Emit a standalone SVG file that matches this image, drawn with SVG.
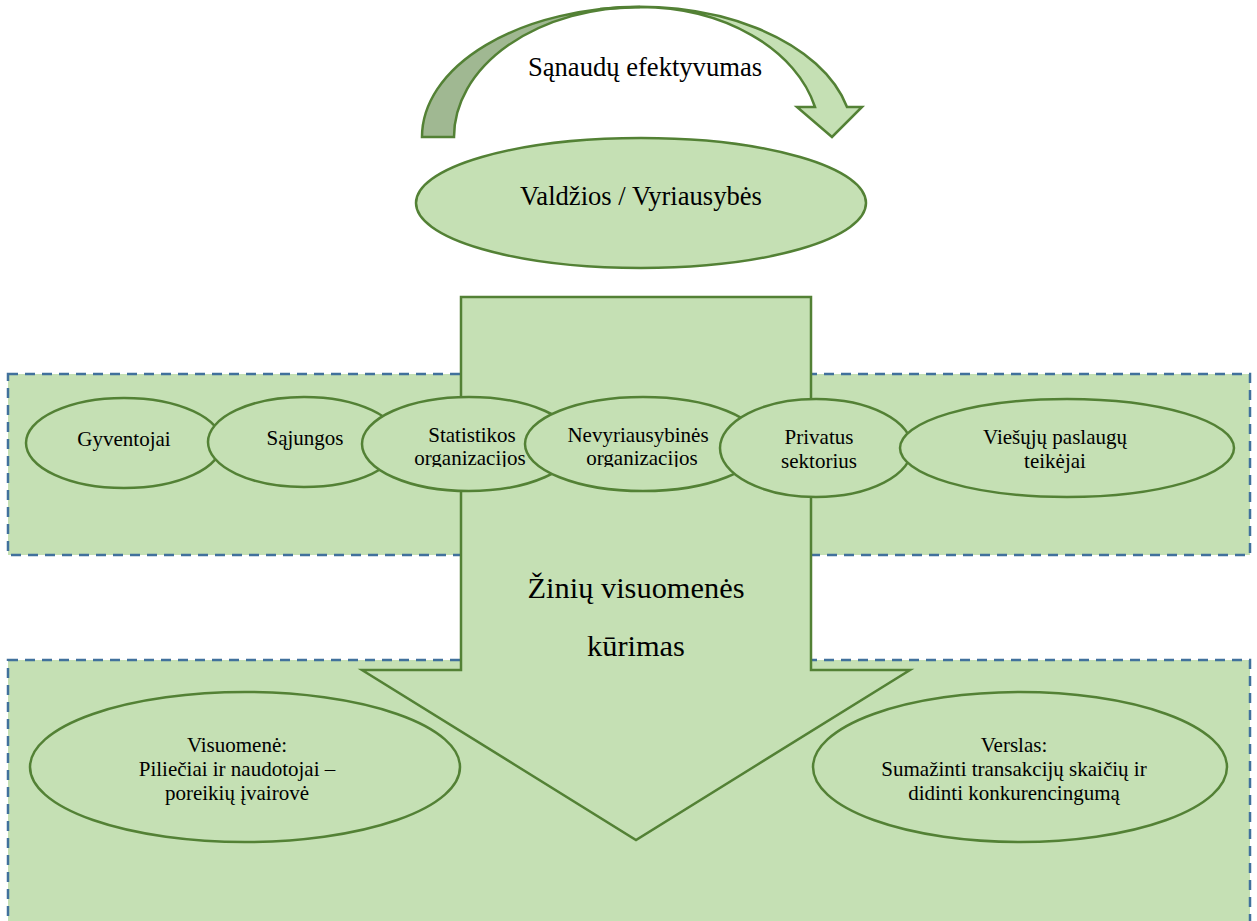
<svg xmlns="http://www.w3.org/2000/svg" width="1257" height="921" viewBox="0 0 1257 921">
<style>
.zone{fill:#c5e0b4;stroke:#41719c;stroke-width:2.5;stroke-dasharray:10 7}
.shape{fill:#c5e0b4;stroke:#538135;stroke-width:2.5}
.back{fill:#a0b892;stroke:#538135;stroke-width:2.5}
.t{font-family:'Liberation Serif','Times New Roman',serif;fill:#000;text-anchor:middle}
.s{font-size:21px}
.m{font-size:26.6px}
.l{font-size:30.4px}
</style>
<defs>
<clipPath id="cut"><rect x="0" y="0" width="1257" height="467"/></clipPath>
</defs>
<rect width="1257" height="921" fill="#fff"/>
<g id="zone-top"><rect class="zone" x="8" y="374" width="1242" height="181"/></g>
<g id="zone-bottom"><rect class="zone" x="8" y="660" width="1242" height="280"/></g>
<g id="connectors">
<g id="curved-arrow">
<path class="shape" d="M600,9 A213,130 0 0 1 847,107 L862,107 L832,137 L797,107 L815,107 A180,130 0 0 0 640,7 Z"/>
<path class="back" d="M422,137 A218,130 0 0 1 640,7 A186,130 0 0 0 454,137 Z"/>
<text class="t m" x="645" y="76">Sąnaudų efektyvumas</text>
</g>
<g id="down-arrow">
<path class="shape" d="M461,297 L811,297 L811,670 L910,670 L636,840 L362,670 L461,670 Z"/>
<text class="t l" x="636" y="598">Žinių visuomenės</text>
<text class="t l" x="636" y="656">kūrimas</text>
</g>
</g>
<g id="nodes">
<g id="valdzios">
<ellipse class="shape" cx="641" cy="203" rx="225" ry="65"/>
<text class="t m" x="641" y="205">Valdžios / Vyriausybės</text>
</g>
<g id="gyventojai">
<ellipse class="shape" cx="124" cy="443" rx="98" ry="45"/>
<text class="t s" x="124" y="446">Gyventojai</text>
</g>
<g id="sajungos">
<ellipse class="shape" cx="304" cy="442" rx="96" ry="45"/>
<text class="t s" x="305" y="445">Sąjungos</text>
</g>
<g id="statistikos">
<ellipse class="shape" cx="469" cy="444" rx="107" ry="47"/>
<text class="t s" x="472" y="442">Statistikos</text>
<text class="t s" x="470" y="465" clip-path="url(#cut)">organizacijos</text>
</g>
<g id="nevyriausybines">
<ellipse class="shape" cx="643" cy="444" rx="118" ry="47"/>
<text class="t s" x="638" y="442">Nevyriausybinės</text>
<text class="t s" x="642" y="465" clip-path="url(#cut)">organizacijos</text>
</g>
<g id="privatus">
<ellipse class="shape" cx="816" cy="448" rx="96" ry="49"/>
<text class="t s" x="819" y="444">Privatus</text>
<text class="t s" x="819" y="468">sektorius</text>
</g>
<g id="viesuju">
<ellipse class="shape" cx="1067" cy="448" rx="167" ry="49"/>
<text class="t s" x="1055" y="444">Viešųjų paslaugų</text>
<text class="t s" x="1055" y="468">teikėjai</text>
</g>
<g id="visuomene">
<ellipse class="shape" cx="245" cy="767" rx="215" ry="75"/>
<text class="t s" x="237" y="752">Visuomenė:</text>
<text class="t s" x="237" y="776">Piliečiai ir naudotojai –</text>
<text class="t s" x="237" y="800">poreikių įvairovė</text>
</g>
<g id="verslas">
<ellipse class="shape" cx="1020" cy="767" rx="207" ry="75"/>
<text class="t s" x="1014" y="752">Verslas:</text>
<text class="t s" x="1014" y="776">Sumažinti transakcijų skaičių ir</text>
<text class="t s" x="1014" y="800">didinti konkurencingumą</text>
</g>
</g>
</svg>
